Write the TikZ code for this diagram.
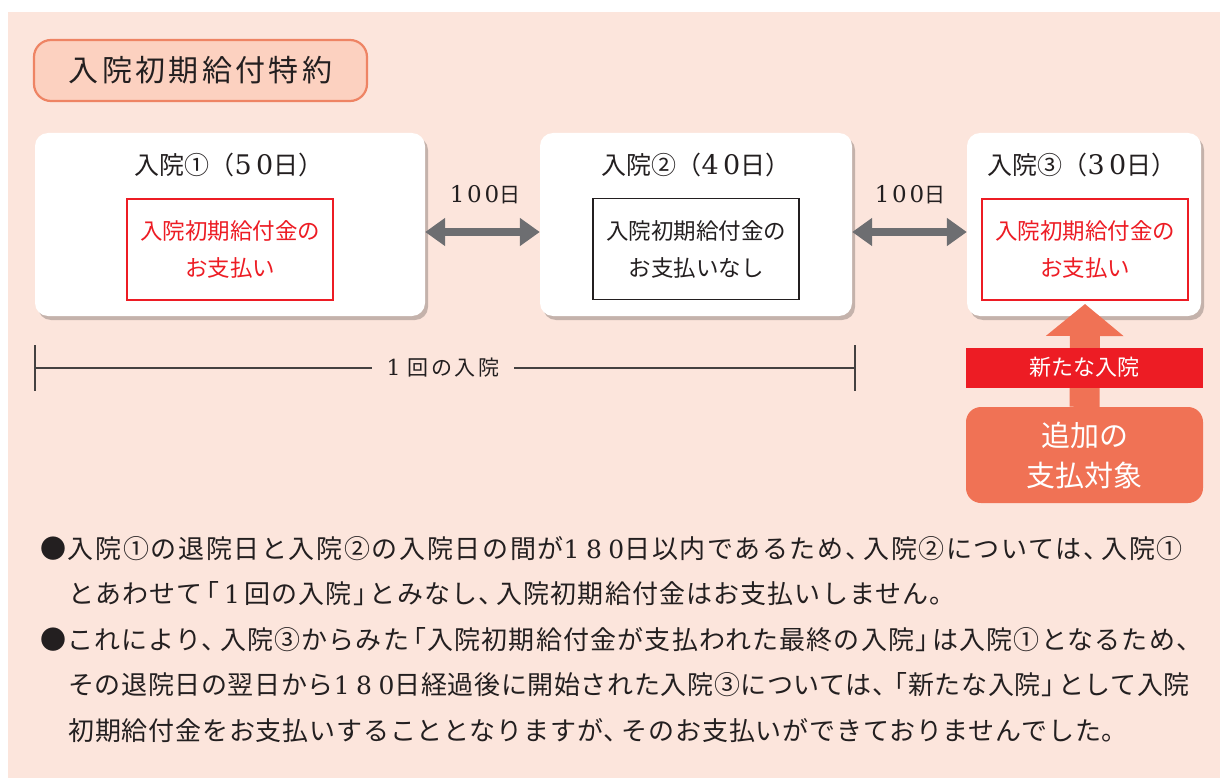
\documentclass[tikz,border=0pt]{standalone}
\usepackage{fontspec}
\setmainfont{Noto Sans CJK JP}
\newfontfamily\dgf{DejaVu Serif}
\newcommand\dg[3]{{\dgf\fontsize{#1}{#1}\selectfont\addfontfeature{LetterSpace=#2}#3}}
\newcommand\Tou{、\kern-.3em}
\newcommand\Lk{\kern-.35em「}
\newcommand\Rk{」\kern-.35em}
\newcommand\ls[1]{\addfontfeature{LetterSpace=#1}}
\usetikzlibrary{arrows.meta,shadows}
\definecolor{bg}{HTML}{FCE5DC}
\definecolor{ttlfill}{HTML}{FCD1C0}
\definecolor{ttlline}{HTML}{EE8464}
\definecolor{salmon}{HTML}{F07255}
\definecolor{red1}{HTML}{ED1C24}
\definecolor{arrgray}{HTML}{6D6E71}
\definecolor{ink}{HTML}{231F20}
\begin{document}
\begin{tikzpicture}[x=1pt,y=-1pt,
  titlebox/.style={draw=ttlline,line width=2.2pt,fill=ttlfill,rounded corners=17pt,
    minimum width=333pt,minimum height=61pt,inner sep=0pt,text=ink},
  card/.style={fill=white,rounded corners=13pt,minimum height=183pt,inner sep=0pt,
    drop shadow={shadow xshift=3pt,shadow yshift=-4pt,opacity=.22,fill=black}},
  cardtitle/.style={text=ink,font=\fontsize{25}{30}\selectfont,inner sep=0pt},
  paybox/.style={draw=red1,line width=1.1pt,text=red1,align=center,
    minimum width=206pt,minimum height=101pt,inner sep=0pt,
    font=\fontsize{22.5}{37}\selectfont},
  nopaybox/.style={paybox,draw=ink,text=ink},
  dbl/.style={{Triangle[length=20pt,width=27pt]}-{Triangle[length=20pt,width=27pt]},
    line width=8pt,draw=arrgray},
  daylbl/.style={text=ink,font=\fontsize{21}{24}\selectfont,inner sep=0pt},
  tick/.style={draw=ink!85,line width=1.1pt},
  body/.style={text=ink,font=\fontsize{26}{30}\selectfont,
    inner sep=0pt,anchor=base west},
  band/.style={fill=red1,text=white,minimum width=237pt,minimum height=40pt,inner sep=0pt,
    font=\fontsize{22}{24}\selectfont},
  addbox/.style={fill=salmon,text=white,rounded corners=15pt,minimum width=237pt,
    minimum height=96pt,inner sep=0pt,align=center,font=\fontsize{29}{40}\selectfont},
  bigarrow/.style={-{Triangle[length=32pt,width=76pt]},line width=30pt,draw=salmon}
]
\useasboundingbox (0,0) rectangle (1220,778);
\fill[bg] (8,12) rectangle (1220,778);

% title
\node[titlebox] (title) at (200.5,70.5)
  {\fontsize{30}{32}\selectfont\ls{11}入院初期給付特約};

% cards
\node[card,minimum width=390pt] (b1) at (230,224.5) {};
\node[card,minimum width=312pt] (b2) at (696,224.5) {};
\node[card,minimum width=234pt] (b3) at (1084,224.5) {};

\node[cardtitle] (t1) at (229,165) {入院①（\dg{27}{16}{50}日）};
\node[cardtitle] (t2) at (696,165) {入院②（\dg{27}{16}{40}日）};
\node[cardtitle] (t3) at (1082,165) {入院③（\dg{27}{16}{30}日）};

\node[paybox] (p1) at (230,249.5) {入院初期給付金の\\お支払い};
\node[nopaybox] (p2) at (696,249) {入院初期給付金の\\お支払いなし};
\node[paybox] (p3) at (1085,249.5) {入院初期給付金の\\お支払い};

% day arrows
\draw[dbl] ([yshift=-7.5pt]b1.east) -- ([yshift=-7.5pt]b2.west);
\draw[dbl] ([yshift=-7.5pt]b2.east) -- ([yshift=-7.5pt]b3.west);
\node[daylbl] (d1) at (485,195) {\dg{23}{12}{100}日};
\node[daylbl] (d2) at (910,195) {\dg{23}{12}{100}日};

% one-stay bracket
\coordinate (bl) at (35,368);
\coordinate (br) at (855,368);
\node[text=ink,inner xsep=15pt,inner ysep=0pt,font=\fontsize{21}{24}\selectfont] (once) at (443,368)
  {\ls{12}\dg{22}{0}{1}\hspace{7pt}回の入院};
\draw[tick] (bl) -- (once.west);
\draw[tick] (once.east) -- (br);
\draw[tick] ([yshift=23pt]bl) -- ([yshift=-23pt]bl);
\draw[tick] ([yshift=23pt]br) -- ([yshift=-23pt]br);

% additional payment
\node[addbox] (add) at (1084.5,455) {追加の\\支払対象};
\coordinate (tip) at (1085,304);
\draw[bigarrow] (add.north) -- (tip);
\node[band] (nb) at (1084.5,367.5) {新たな入院};

% explanatory text
\node[body] (l1) at (40,558) {\ls{6.3}●入院①の退院日と入院②の入院日の間が\dg{25}{26}{180}日以内であるため\Tou 入院②については\Tou 入院①};
\node[body] (l2) at (68,603.5) {\ls{4.3}とあわせて\Lk\makebox[25pt]{\dg{25}{0}{1}}回の入院\Rk とみなし\Tou 入院初期給付金はお支払いしません。};
\node[body] (l3) at (40,649) {\ls{4.6}●これにより\Tou 入院③からみた\Lk 入院初期給付金が支払われた最終の入院\Rk は入院①となるため\Tou};
\node[body] (l4) at (68,694.5) {\ls{2.4}その退院日の翌日から\dg{25}{26}{180}日経過後に開始された入院③については\Tou\Lk 新たな入院\Rk として入院};
\node[body] (l5) at (68,740) {\ls{3.2}初期給付金をお支払いすることとなりますが\Tou そのお支払いができておりませんでした。};
\end{tikzpicture}
\end{document}
